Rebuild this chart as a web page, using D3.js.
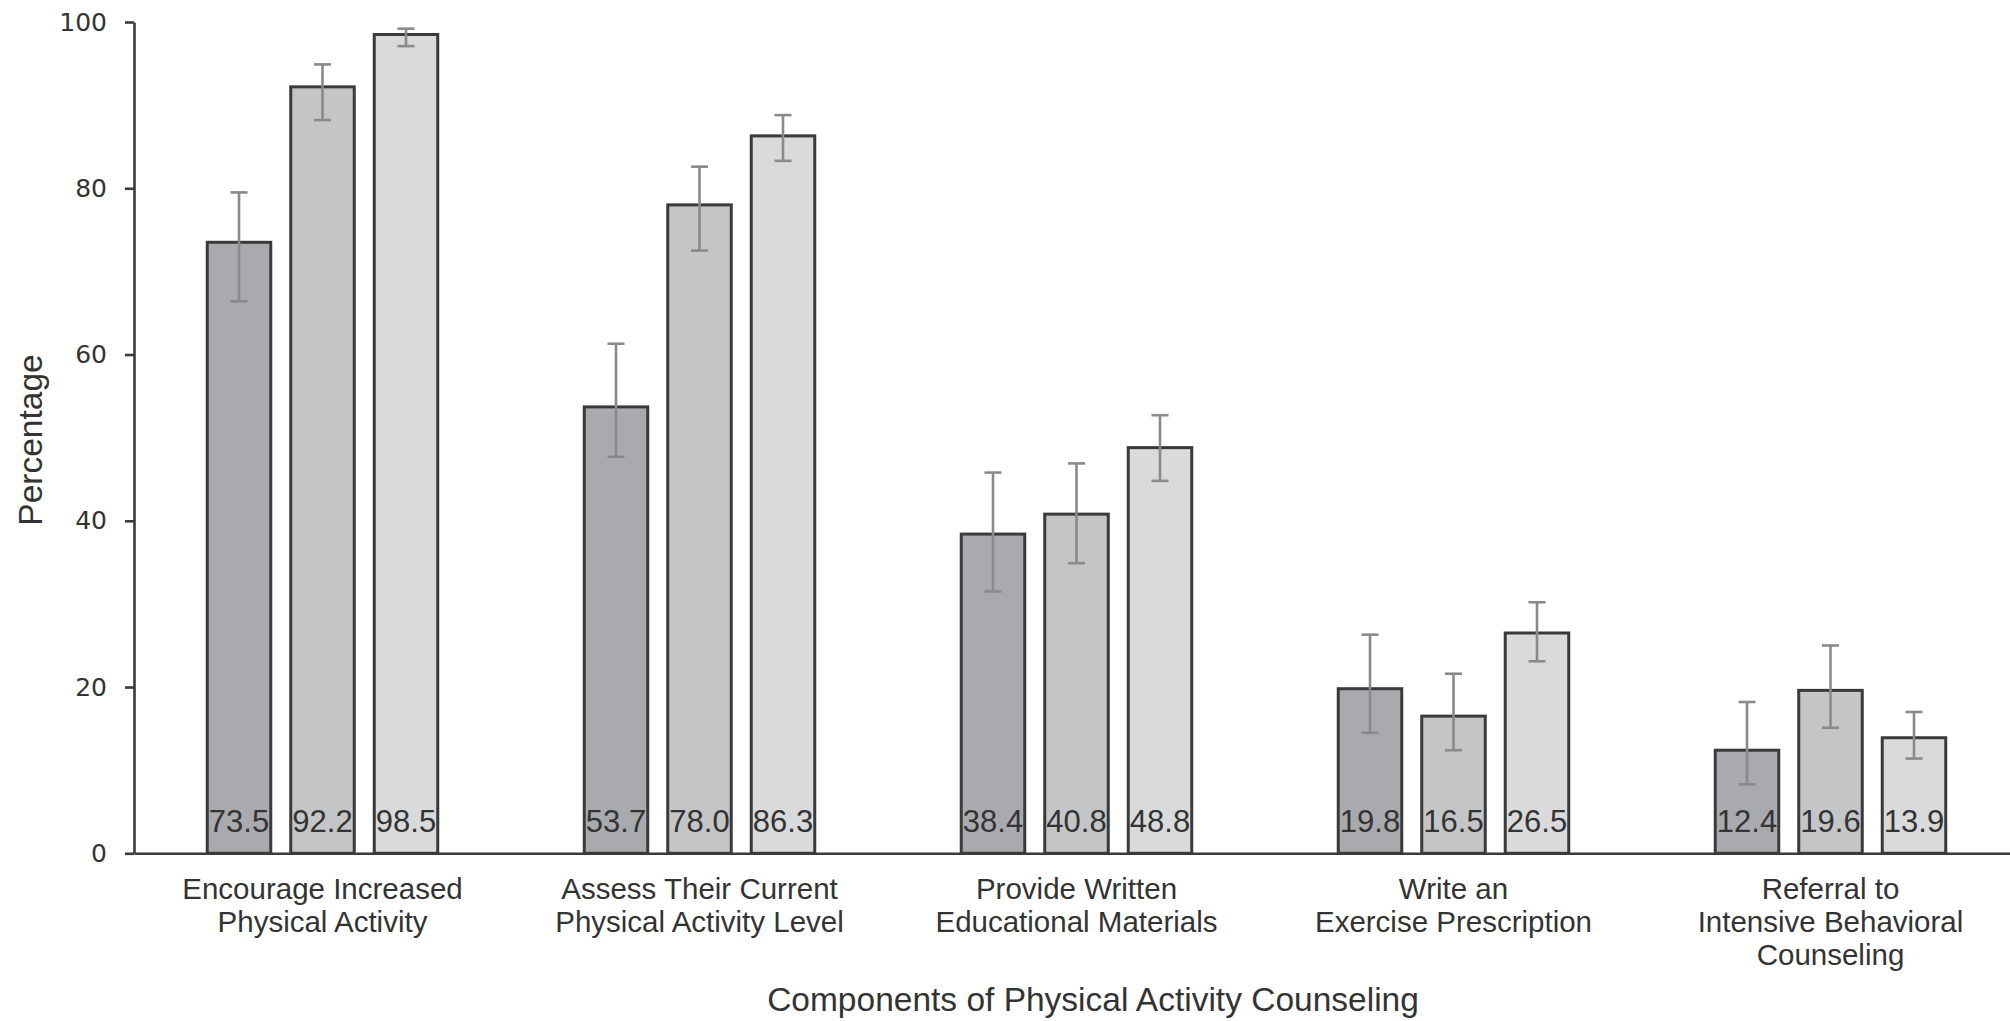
<!DOCTYPE html>
<html>
<head>
<meta charset="utf-8">
<script src="https://cdn.jsdelivr.net/npm/d3@7"></script>
<style>
  html, body { margin: 0; padding: 0; background: #ffffff; }
  svg { display: block; }
</style>
</head>
<body>
<svg id="chart" width="2010" height="1021"></svg>
<script>
// Components of physical activity counseling, three respondent groups per component
const categories = [
  ["Encourage Increased", "Physical Activity"],
  ["Assess Their Current", "Physical Activity Level"],
  ["Provide Written", "Educational Materials"],
  ["Write an", "Exercise Prescription"],
  ["Referral to", "Intensive Behavioral", "Counseling"]
];
const seriesKeys = ["g1", "g2", "g3"];

// Percentages per group
const valuesG1 = [73.5, 53.7, 38.4, 19.8, 12.4];
const valuesG2 = [92.2, 78.0, 40.8, 16.5, 19.6];
const valuesG3 = [98.5, 86.3, 48.8, 26.5, 13.9];

// Error bar limits per group
const lowG1  = [66.4, 47.7, 31.5, 14.5, 8.3];
const highG1 = [79.5, 61.3, 45.8, 26.3, 18.2];
const lowG2  = [88.2, 72.5, 34.9, 12.4, 15.1];
const highG2 = [94.9, 82.6, 46.9, 21.6, 25.0];
const lowG3  = [97.1, 83.3, 44.8, 23.1, 11.4];
const highG3 = [99.2, 88.8, 52.7, 30.2, 17.0];

const yTicks = [0, 20, 40, 60, 80, 100];
const yLabel = "Percentage";
const xLabel = "Components of Physical Activity Counseling";

const series = [
  { key: "g1", values: valuesG1, low: lowG1, high: highG1, fill: "#a9aaad" },
  { key: "g2", values: valuesG2, low: lowG2, high: highG2, fill: "#c4c5c7" },
  { key: "g3", values: valuesG3, low: lowG3, high: highG3, fill: "#d9dadb" }
];

const svg = d3.select("#chart");
const axisX0 = 134, axisY0 = 853.3, axisTop = 22;

const x0 = d3.scaleBand()
  .domain(d3.range(categories.length))
  .range([axisX0, axisX0 + 377 * categories.length])
  .paddingInner(0).paddingOuter(0);

const step = x0.bandwidth();
const x1 = d3.scaleBand()
  .domain(seriesKeys)
  .range([step / 2 - 115.25, step / 2 + 115.25])
  .paddingInner(0.2395).paddingOuter(0);

const y = d3.scaleLinear().domain([0, 100]).range([axisY0, axisTop]);

const ink = "#3a3a3a";

// Bars
const groups = svg.append("g").selectAll("g")
  .data(categories.map((c, i) => i))
  .join("g")
  .attr("transform", i => `translate(${x0(i)},0)`);

const cells = groups.selectAll("g.cell")
  .data(i => series.map(s => ({
    key: s.key, fill: s.fill, v: s.values[i], lo: s.low[i], hi: s.high[i]
  })))
  .join("g").attr("class", "cell");

cells.append("rect")
  .attr("x", d => x1(d.key))
  .attr("width", x1.bandwidth())
  .attr("y", d => y(d.v))
  .attr("height", d => y(0) - y(d.v))
  .attr("fill", d => d.fill)
  .attr("stroke", ink)
  .attr("stroke-width", 3);

// Error bars
const errColor = "#8a8a8a";
const capHalf = 8.5;
cells.append("line")
  .attr("x1", d => x1(d.key) + x1.bandwidth() / 2)
  .attr("x2", d => x1(d.key) + x1.bandwidth() / 2)
  .attr("y1", d => y(d.hi))
  .attr("y2", d => y(d.lo))
  .attr("stroke", errColor).attr("stroke-width", 2.6);
cells.append("line")
  .attr("x1", d => x1(d.key) + x1.bandwidth() / 2 - capHalf)
  .attr("x2", d => x1(d.key) + x1.bandwidth() / 2 + capHalf)
  .attr("y1", d => y(d.hi)).attr("y2", d => y(d.hi))
  .attr("stroke", errColor).attr("stroke-width", 2.6);
cells.append("line")
  .attr("x1", d => x1(d.key) + x1.bandwidth() / 2 - capHalf)
  .attr("x2", d => x1(d.key) + x1.bandwidth() / 2 + capHalf)
  .attr("y1", d => y(d.lo)).attr("y2", d => y(d.lo))
  .attr("stroke", errColor).attr("stroke-width", 2.6);

// Value labels inside the bars
cells.append("text")
  .attr("x", d => x1(d.key) + x1.bandwidth() / 2)
  .attr("y", axisY0 - 21)
  .attr("text-anchor", "middle")
  .attr("font-family", "'Liberation Sans', Arial, sans-serif")
  .attr("font-size", 31)
  .attr("fill", "#333333")
  .text(d => d.v.toFixed(1));

// Y axis
const yAxis = svg.append("g")
  .attr("transform", `translate(${axisX0},0)`)
  .call(d3.axisLeft(y).tickValues(yTicks).tickSize(9).tickSizeOuter(0).tickPadding(18));
yAxis.select(".domain").attr("stroke", ink).attr("stroke-width", 2.6);
yAxis.selectAll(".tick line").attr("stroke", ink).attr("stroke-width", 2.6);
yAxis.selectAll(".tick text")
  .attr("font-family", "'DejaVu Sans', Verdana, sans-serif")
  .attr("font-size", 25)
  .attr("fill", "#333333");

// X axis baseline
const xAxis = svg.append("g")
  .attr("transform", `translate(0,${axisY0})`)
  .call(d3.axisBottom(x0).tickSize(0).tickSizeOuter(0).tickFormat(""));
xAxis.select(".domain").attr("stroke", ink).attr("stroke-width", 2.6);

// Category labels (multi-line)
const catLabels = svg.append("g").selectAll("text")
  .data(categories)
  .join("text")
  .attr("x", (c, i) => x0(i) + step / 2)
  .attr("y", 899)
  .attr("text-anchor", "middle")
  .attr("font-family", "'Liberation Sans', Arial, sans-serif")
  .attr("font-size", 29.5)
  .attr("fill", "#333333");
catLabels.selectAll("tspan")
  .data(c => c)
  .join("tspan")
  .attr("x", function () { return d3.select(this.parentNode).attr("x"); })
  .attr("dy", (t, j) => j === 0 ? 0 : 33)
  .text(t => t);

// Axis titles
svg.append("text")
  .attr("transform", `translate(42,440) rotate(-90)`)
  .attr("text-anchor", "middle")
  .attr("font-family", "'Liberation Sans', Arial, sans-serif")
  .attr("font-size", 33.5)
  .attr("fill", "#333333")
  .text(yLabel);

svg.append("text")
  .attr("x", 1093)
  .attr("y", 1011)
  .attr("text-anchor", "middle")
  .attr("font-family", "'Liberation Sans', Arial, sans-serif")
  .attr("font-size", 33.5)
  .attr("fill", "#333333")
  .text(xLabel);
</script>
</body>
</html>
